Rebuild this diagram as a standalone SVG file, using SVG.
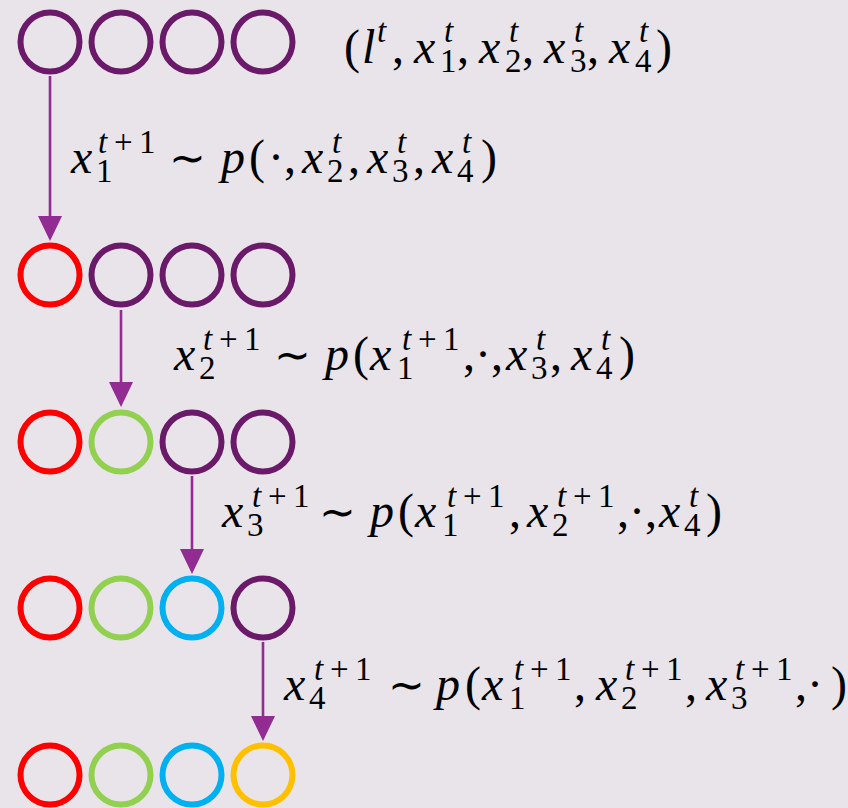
<svg xmlns="http://www.w3.org/2000/svg" width="848" height="808" viewBox="0 0 848 808">
<defs>
<style>
.bg{fill:#E8E4EA}
.c{fill:none;stroke-width:6}
.pu{stroke:#6A1A69}
.re{stroke:#FF0000}
.gr{stroke:#92D050}
.bl{stroke:#00B0F0}
.or{stroke:#FFC000}
.arr{stroke:#922B92;stroke-width:2.6;fill:none;marker-end:url(#ah)}
text{font-family:"Liberation Serif","DejaVu Serif",serif;fill:#000}
.m{font-style:italic;font-size:48px}
.u{font-style:normal;font-size:48px}
.t{font-family:"DejaVu Sans","Liberation Sans",sans-serif;font-size:44px}
.s{font-style:italic;font-size:33px}
.d{font-style:normal;font-size:33px}
</style>
<marker id="ah" viewBox="0 0 25 24" refX="5" refY="12" markerWidth="25" markerHeight="24" markerUnits="userSpaceOnUse" orient="auto">
<path d="M0,0 L25,12 L0,24 Z" fill="#922B92"/>
</marker>
</defs>
<rect class="bg" x="0" y="0" width="848" height="808"/>

<g id="row1">
<circle class="c pu" cx="50" cy="42" r="29.5"/>
<circle class="c pu" cx="121" cy="42" r="29.5"/>
<circle class="c pu" cx="192" cy="42" r="29.5"/>
<circle class="c pu" cx="263" cy="42" r="29.5"/>
</g>
<g id="row2">
<circle class="c re" cx="50" cy="275" r="29.5"/>
<circle class="c pu" cx="121" cy="275" r="29.5"/>
<circle class="c pu" cx="192" cy="275" r="29.5"/>
<circle class="c pu" cx="263" cy="275" r="29.5"/>
</g>
<g id="row3">
<circle class="c re" cx="50" cy="442" r="29.5"/>
<circle class="c gr" cx="121" cy="442" r="29.5"/>
<circle class="c pu" cx="192" cy="442" r="29.5"/>
<circle class="c pu" cx="263" cy="442" r="29.5"/>
</g>
<g id="row4">
<circle class="c re" cx="50" cy="608" r="29.5"/>
<circle class="c gr" cx="121" cy="608" r="29.5"/>
<circle class="c bl" cx="192" cy="608" r="29.5"/>
<circle class="c pu" cx="263" cy="608" r="29.5"/>
</g>
<g id="row5">
<circle class="c re" cx="50" cy="775" r="29.5"/>
<circle class="c gr" cx="121" cy="775" r="29.5"/>
<circle class="c bl" cx="192" cy="775" r="29.5"/>
<circle class="c or" cx="263" cy="775" r="29.5"/>
</g>

<g id="connectors">
<path class="arr" d="M50,76 L50,221"/>
<path class="arr" d="M121,310 L121,387"/>
<path class="arr" d="M192,476 L192,554"/>
<path class="arr" d="M263,642 L263,721"/>
</g>

<g id="label0">
<text><tspan class="u" x="344" y="63">(</tspan><tspan class="m" x="362" y="63">l</tspan><tspan class="s" x="377" y="42">t</tspan><tspan class="u" x="392" y="63">,</tspan><tspan class="m" x="414" y="63">x</tspan><tspan class="d" x="440" y="72">1</tspan><tspan class="s" x="444" y="42">t</tspan><tspan class="u" x="457" y="63">,</tspan><tspan class="m" x="479" y="63">x</tspan><tspan class="d" x="505" y="72">2</tspan><tspan class="s" x="509" y="42">t</tspan><tspan class="u" x="522" y="63">,</tspan><tspan class="m" x="544" y="63">x</tspan><tspan class="d" x="570" y="72">3</tspan><tspan class="s" x="574" y="42">t</tspan><tspan class="u" x="587" y="63">,</tspan><tspan class="m" x="609" y="63">x</tspan><tspan class="d" x="635" y="72">4</tspan><tspan class="s" x="639" y="42">t</tspan><tspan class="u" x="656" y="63">)</tspan></text>
</g>

<g id="label1">
<text><tspan class="m" x="71" y="173">x</tspan><tspan class="d" x="96" y="182">1</tspan><tspan class="s" x="98" y="153">t</tspan><tspan class="d" x="114" y="153">+</tspan><tspan class="d" x="139" y="153">1</tspan><tspan class="t" x="169" y="173">∼</tspan><tspan class="m" x="221" y="173">p</tspan><tspan class="u" x="249" y="173">(</tspan><tspan class="u" x="268" y="173">·,</tspan><tspan class="m" x="302" y="173">x</tspan><tspan class="d" x="327" y="182">2</tspan><tspan class="s" x="332" y="153">t</tspan><tspan class="u" x="348" y="173">,</tspan><tspan class="m" x="367" y="173">x</tspan><tspan class="d" x="392" y="182">3</tspan><tspan class="s" x="397" y="153">t</tspan><tspan class="u" x="413" y="173">,</tspan><tspan class="m" x="432" y="173">x</tspan><tspan class="d" x="457" y="182">4</tspan><tspan class="s" x="462" y="153">t</tspan><tspan class="u" x="481" y="173">)</tspan></text>
</g>

<g id="label2">
<text><tspan class="m" x="174" y="370">x</tspan><tspan class="d" x="199" y="379">2</tspan><tspan class="s" x="203" y="350">t</tspan><tspan class="d" x="219" y="350">+</tspan><tspan class="d" x="244" y="350">1</tspan><tspan class="t" x="274" y="370">∼</tspan><tspan class="m" x="325" y="370">p</tspan><tspan class="u" x="353" y="370">(</tspan><tspan class="m" x="370" y="370">x</tspan><tspan class="d" x="397" y="379">1</tspan><tspan class="s" x="402" y="350">t</tspan><tspan class="d" x="418" y="350">+</tspan><tspan class="d" x="443" y="350">1</tspan><tspan class="u" x="463" y="370">,·,</tspan><tspan class="m" x="506" y="370">x</tspan><tspan class="d" x="531" y="379">3</tspan><tspan class="s" x="536" y="350">t</tspan><tspan class="u" x="550" y="370">,</tspan><tspan class="m" x="571" y="370">x</tspan><tspan class="d" x="596" y="379">4</tspan><tspan class="s" x="601" y="350">t</tspan><tspan class="u" x="619" y="370">)</tspan></text>
</g>

<g id="label3">
<text><tspan class="m" x="222" y="527">x</tspan><tspan class="d" x="247" y="536">3</tspan><tspan class="s" x="252" y="507">t</tspan><tspan class="d" x="268" y="507">+</tspan><tspan class="d" x="293" y="507">1</tspan><tspan class="t" x="319" y="527">∼</tspan><tspan class="m" x="370" y="527">p</tspan><tspan class="u" x="398" y="527">(</tspan><tspan class="m" x="415" y="527">x</tspan><tspan class="d" x="442" y="536">1</tspan><tspan class="s" x="447" y="507">t</tspan><tspan class="d" x="463" y="507">+</tspan><tspan class="d" x="488" y="507">1</tspan><tspan class="u" x="509" y="527">,</tspan><tspan class="m" x="527" y="527">x</tspan><tspan class="d" x="552" y="536">2</tspan><tspan class="s" x="557" y="507">t</tspan><tspan class="d" x="573" y="507">+</tspan><tspan class="d" x="598" y="507">1</tspan><tspan class="u" x="617" y="527">,·,</tspan><tspan class="m" x="659" y="527">x</tspan><tspan class="d" x="684" y="536">4</tspan><tspan class="s" x="689" y="507">t</tspan><tspan class="u" x="706" y="527">)</tspan></text>
</g>

<g id="label4">
<text><tspan class="m" x="284" y="700">x</tspan><tspan class="d" x="309" y="709">4</tspan><tspan class="s" x="314" y="680">t</tspan><tspan class="d" x="330" y="680">+</tspan><tspan class="d" x="355" y="680">1</tspan><tspan class="t" x="388" y="700">∼</tspan><tspan class="m" x="436" y="700">p</tspan><tspan class="u" x="465" y="700">(</tspan><tspan class="m" x="482" y="700">x</tspan><tspan class="d" x="509" y="709">1</tspan><tspan class="s" x="514" y="680">t</tspan><tspan class="d" x="530" y="680">+</tspan><tspan class="d" x="555" y="680">1</tspan><tspan class="u" x="574" y="700">,</tspan><tspan class="m" x="596" y="700">x</tspan><tspan class="d" x="621" y="709">2</tspan><tspan class="s" x="625" y="680">t</tspan><tspan class="d" x="641" y="680">+</tspan><tspan class="d" x="666" y="680">1</tspan><tspan class="u" x="685" y="700">,</tspan><tspan class="m" x="706" y="700">x</tspan><tspan class="d" x="731" y="709">3</tspan><tspan class="s" x="735" y="680">t</tspan><tspan class="d" x="751" y="680">+</tspan><tspan class="d" x="776" y="680">1</tspan><tspan class="u" x="795" y="700">,·</tspan><tspan class="u" x="831" y="700">)</tspan></text>
</g>
</svg>
